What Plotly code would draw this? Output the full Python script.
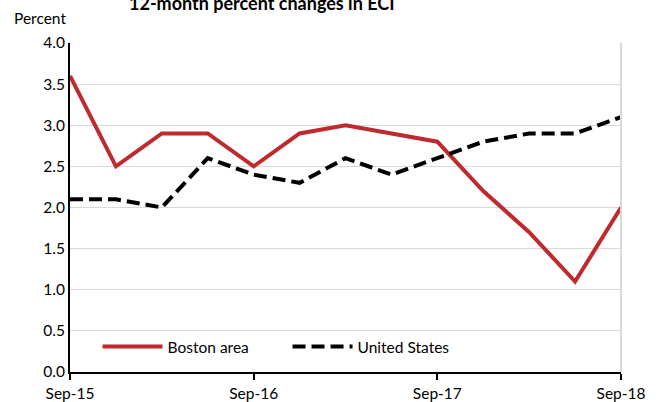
import plotly.graph_objects as go

quarters = ["Sep-15", "Dec-15", "Mar-16", "Jun-16", "Sep-16", "Dec-16", "Mar-17",
            "Jun-17", "Sep-17", "Dec-17", "Mar-18", "Jun-18", "Sep-18"]
boston = [3.6, 2.5, 2.9, 2.9, 2.5, 2.9, 3.0, 2.9, 2.8, 2.2, 1.7, 1.1, 2.0]
us = [2.1, 2.1, 2.0, 2.6, 2.4, 2.3, 2.6, 2.4, 2.6, 2.8, 2.9, 2.9, 3.1]
tick_labels = ["Sep-15", "Sep-16", "Sep-17", "Sep-18"]
tick_pos = [quarters.index(t) for t in tick_labels]
xs = list(range(len(quarters)))

FONT = "Lato"
fig = go.Figure()
fig.add_trace(go.Scatter(x=xs, y=boston, mode="lines", name="Boston area",
                         line=dict(color="#BE2A2E", width=4), cliponaxis=False))
fig.add_trace(go.Scatter(x=xs, y=us, mode="lines", name="United States",
                         line=dict(color="black", width=4, dash="13px,6px"), cliponaxis=False))

fig.update_layout(
    width=664, height=402,
    margin=dict(l=70, r=43, t=43, b=30, autoexpand=False),
    paper_bgcolor="white", plot_bgcolor="white",
    font=dict(family=FONT, size=15, color="black"),
    showlegend=True,
    legend=dict(orientation="h", x=0.05, y=0.076, xanchor="left", yanchor="middle",
                bgcolor="rgba(0,0,0,0)", font=dict(size=15.5), itemwidth=60,
                entrywidth=115, tracegroupgap=0),
    xaxis=dict(range=[0, 12], tickvals=tick_pos, ticktext=tick_labels,
               showgrid=False, zeroline=False, showline=True, linecolor="black",
               linewidth=2, ticks="outside", ticklen=6, tickwidth=2, tickcolor="black",
               tickfont=dict(size=15.5), automargin=False),
    yaxis=dict(range=[0, 4], dtick=0.5, tickformat=".1f", showgrid=True,
               gridcolor="#D9D9D9", gridwidth=1, zeroline=False, showline=True,
               linecolor="black", linewidth=2, ticks="", tickfont=dict(size=15.5),
               automargin=False),
    shapes=[dict(type="line", xref="paper", yref="paper", x0=1, x1=1, y0=0, y1=1,
                 line=dict(color="#D9D9D9", width=2))],
    annotations=[
        dict(text="<b>12-month percent changes in ECI</b>", xref="paper", yref="paper",
             x=(262 - 70) / 551, y=1 + 40 / 329, xanchor="center", yanchor="middle",
             showarrow=False, font=dict(size=18)),
        dict(text="Percent", xref="paper", yref="paper", x=-70 / 551 + 12 / 551,
             y=1 + 25 / 329, xanchor="left", yanchor="middle", showarrow=False,
             font=dict(size=15.5)),
    ],
)

fig.write_html("out.html", config={"displayModeBar": False},
               post_script="document.body.style.margin='0';")
